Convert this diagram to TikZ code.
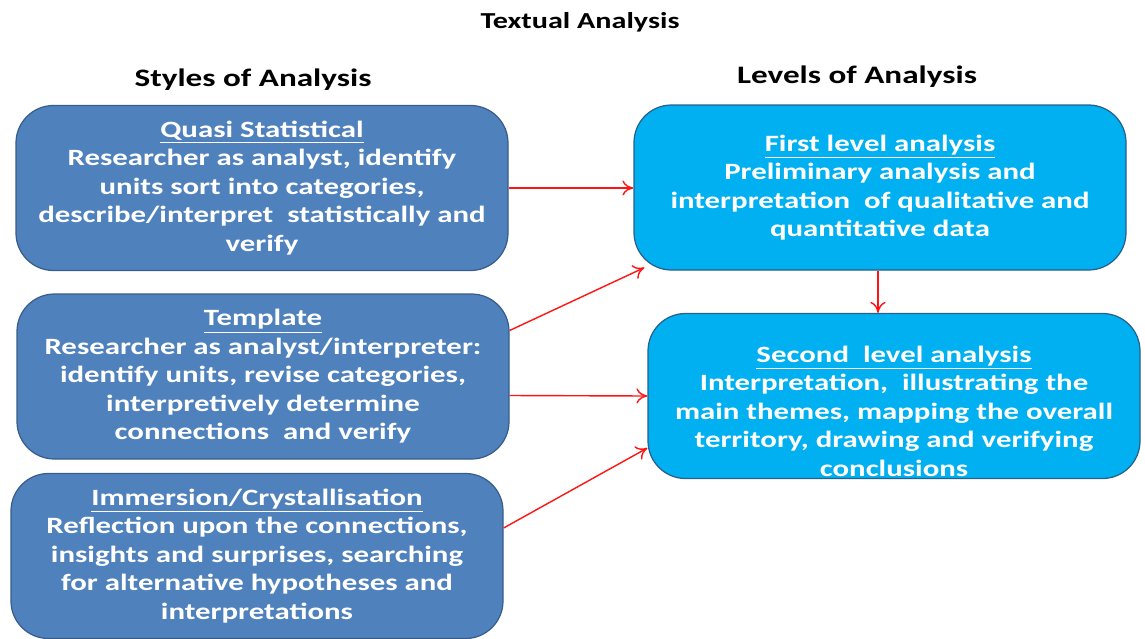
\documentclass[tikz,border=0pt]{standalone}
\usepackage{fontspec}
\setmainfont[FakeStretch=1.32]{Carlito}
\usetikzlibrary{arrows.meta,positioning,calc}
\definecolor{styleblue}{RGB}{79,129,189}
\definecolor{styleedge}{RGB}{56,93,138}
\definecolor{levelcyan}{RGB}{0,176,240}
\definecolor{leveledge}{RGB}{38,96,140}
\definecolor{linkred}{RGB}{255,20,20}

\begin{document}
\begin{tikzpicture}[
    stylebox/.style={draw=styleedge, line width=0.7pt, fill=styleblue, rounded corners=0.75cm,
        minimum width=9.84cm, minimum height=3.3cm, align=center, text=white,
        font=\bfseries\fontsize{13.3}{16.2}\selectfont},
    levelbox/.style={stylebox, draw=leveledge, fill=levelcyan},
    boxtext/.style={align=center, text=white, font=\bfseries\fontsize{13.3}{16.2}\selectfont},
    heading/.style={font=\bfseries\fontsize{14.3}{17}\selectfont},
    link/.style={linkred, line width=0.8pt, -{To[length=2.2mm,width=3mm]}}
]
    \useasboundingbox (0,0) rectangle (22.9,-12.76);

    % Titles
    \node[heading, font=\bfseries\fontsize{13}{16}\selectfont] (title) at (11.6,-0.44) {Textual Analysis};
    \node[heading] (styles) at (5.06,-1.6) {Styles of Analysis};
    \node[heading] (levels) at (17.14,-1.54) {Levels of Analysis};

    % Styles of analysis
    \node[stylebox] (quasi) at (5.24,-3.76) {\underline{Quasi Statistical}\\
        Researcher as analyst, identify\\ units sort into categories,\\
        describe/interpret \ statistically and\\ verify};
    \node[stylebox] (template) at (5.26,-7.53) {\underline{Template}\\
        Researcher as analyst/interpreter:\\ identify units, revise categories,\\
        interpretively determine\\ connections \ and verify};
    \node[stylebox] (immersion) at (5.14,-11.12) {\underline{Immersion/Crystallisation}\\
        Reflection upon the connections,\\ insights and surprises, searching\\
        for alternative hypotheses and\\ interpretations};

    % Levels of analysis
    \node[levelbox] (first) at (17.6,-3.75) {\underline{First level analysis}\\
        Preliminary analysis and\\ interpretation \ of qualitative and\\ quantitative data};
    \node[levelbox] (second) at (17.88,-7.92) {};
    \node[boxtext] (secondtext) at ([yshift=-0.3cm]second.center) {\underline{Second \ level analysis}\\
        Interpretation, \ illustrating the\\ main themes, mapping the overall\\
        territory, drawing and verifying\\ conclusions};

    % Links
    \draw[link] (quasi.east) -- (quasi.east -| first.west);
    \draw[link] ([yshift=0.92cm]template.east) -- ([shift={(0.22,0.06)}]first.south west);
    \draw[link] ([yshift=-0.38cm]template.east) -- (second.west);
    \draw[link] ([yshift=0.56cm]immersion.east) -- ([yshift=-1.04cm]second.west);
    \draw[link] ([xshift=-0.04cm]first.south) -- ([xshift=-0.04cm]first.south |- second.north);
\end{tikzpicture}
\end{document}
